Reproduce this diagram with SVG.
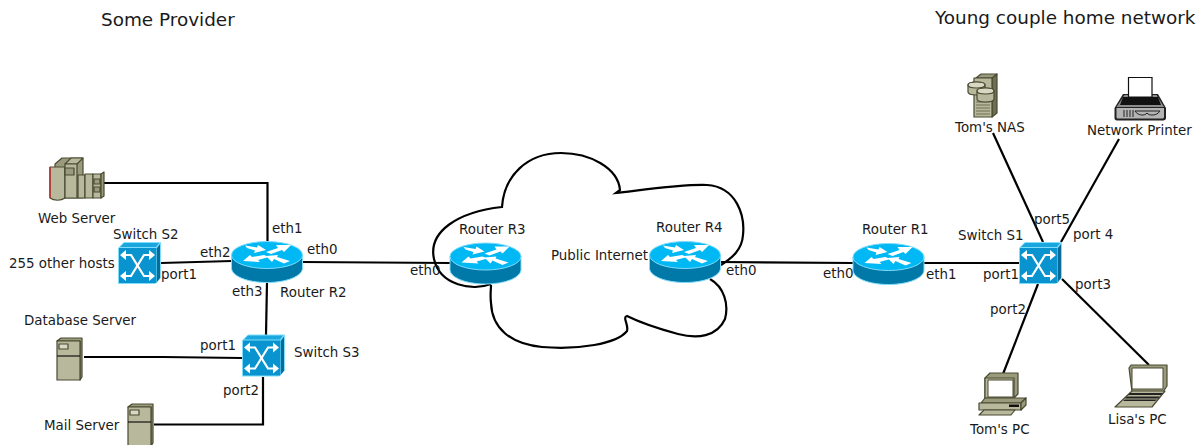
<svg xmlns="http://www.w3.org/2000/svg" xmlns:xlink="http://www.w3.org/1999/xlink" width="1198" height="445" viewBox="0 0 1198 445">
<style>
text{font-family:"DejaVu Sans",sans-serif;font-size:13.400px;fill:#1a1a1a}
.title{font-size:18.400px}
.link{fill:none;stroke:#000;stroke-width:2.200}
.cloud{fill:none;stroke:#000;stroke-width:2.200}
.k{stroke:#4a4a32;stroke-width:1.200;stroke-linejoin:round}
.b{fill:#b8b89c}.m{fill:#9a9a7c}.d{fill:#6e6e52}
.l{fill:#d8d8c4}
.arrow{fill:#fff}
</style>
<defs>
<g id="router">
<path d="M-35.500 14V27C-35.500 35 -20 41.500 0 41.500S35.500 35 35.500 27V14Z" fill="#0078a8" stroke="#7fdcfa" stroke-width="1"/>
<ellipse cx="0" cy="14" rx="35.500" ry="13.500" fill="#00b8f4" stroke="#7fdcfa" stroke-width="1"/>
<g class="arrow">
<path d="M-22 4.500L-10 6.500 -9 4 -1 9 -13 12 -12 9.500 -20 7Z"/>
<path d="M24 4L17 11 15 9 4 13 -1 11 11 7 9 4Z"/>
<path d="M-24 20L-17 14 -15 16 -3 14 2 16 -9 19 -7 21Z"/>
<path d="M-1 15L11 14 10 16 23 20 17 22.500 7 18 5 21Z"/>
</g>
</g>
<g id="switch">
<path d="M0 6L6 0H43V36L37 42H0Z" fill="#7fdcfa"/>
<path d="M2 5L6 1H41L38 5Z" fill="#1aa7e0"/>
<path d="M39 6L42 2V36L39 40Z" fill="#0a6c96"/>
<rect x="1" y="6" width="37.500" height="35" fill="#0a94cf"/>
<g fill="none" stroke="#fff" stroke-width="2.200">
<path d="M5 13H13L26 34H34"/>
<path d="M34 13H26L13 34H5"/>
</g>
<g class="arrow">
<path d="M2 13L8 8V18Z"/><path d="M37 13L31 8V18Z"/>
<path d="M2 34L8 29V39Z"/><path d="M37 34L31 29V39Z"/>
</g>
</g>
<g id="tower">
<path class="k m" d="M1 4L5 1H26V40L24 43V4Z"/>
<path class="k b" d="M1 4H24V43H1Z"/>
<path class="k l" d="M3 7H12V12H3Z"/>
<path d="M1 19H24" stroke="#111" stroke-width="1.200"/>
</g>
</defs>

<g id="connectors">
<path class="link" d="M104 183H267.500V242"/>
<path class="link" d="M161 263L232 261"/>
<path class="link" d="M302 262L450 263"/>
<path class="link" d="M267 282L266 335"/>
<path class="link" d="M84 357H163L242 358"/>
<path class="link" d="M263 377V424.500H154"/>
<path class="link" d="M721 262L853 263"/>
<path class="link" d="M924 263H1019"/>
<path class="link" d="M993 133L1043 242"/>
<path class="link" d="M1119 139L1061 242"/>
<path class="link" d="M1038 284L1003 374"/>
<path class="link" d="M1062 279L1149 365"/>
</g>

<g id="cloud">
<path class="cloud" d="M491 284C473 291 440 286 434 259C428 232 457 212 502 207C504 176 527 153 561 153C590 153 618 168 620 190L616 193C650 189 684 184 707 185C737 187 745 216 743 235C742 250 732 258 721 265"/>
<path class="cloud" d="M710 279C724 287 729 304 725 319C717 337 697 339 678 334C656 328 637 321 627 316C622 317 629 325 627 331C617 344 578 350 542 347C510 344 492 328 491 303C490 295 491 290 491 285"/>
</g>

<g id="router-r2"><use xlink:href="#router" href="#router" x="267" y="241"/><text x="280" y="297">Router R2</text></g>
<g id="router-r3"><use xlink:href="#router" href="#router" x="485.500" y="242.500"/><text x="459" y="234">Router R3</text></g>
<g id="router-r4"><use xlink:href="#router" href="#router" x="685" y="241"/><text x="656" y="232">Router R4</text></g>
<g id="router-r1"><use xlink:href="#router" href="#router" x="888.500" y="243"/><text x="862" y="234">Router R1</text></g>

<g id="switch-s2"><use xlink:href="#switch" href="#switch" x="118" y="242"/><text x="113" y="239">Switch S2</text></g>
<g id="switch-s3"><use xlink:href="#switch" href="#switch" x="242" y="334.500"/><text x="294" y="357">Switch S3</text></g>
<g id="switch-s1"><use xlink:href="#switch" href="#switch" x="1019" y="242"/><text x="958" y="240">Switch S1</text></g>

<g id="web-server">
<path class="k m" d="M55 164L62 158H83V198H55Z"/>
<path class="k b" d="M65 164L71 158H83L77 164Z"/>
<path class="k b" d="M50 167H65V198C61 201 54 201 50 198Z"/>
<path d="M50 167V198" stroke="#c03030" stroke-width="1.500"/>
<path class="k b" d="M65 164H77V198H65Z"/>
<path class="k m" d="M65 168H74V175H65Z"/>
<path class="k b" d="M78 175H85V198H78Z"/><path class="k b" d="M85 174H93V198H85Z"/><path class="k b" d="M93 174H101V198H93Z"/>
<path class="k m" d="M101 174L104 172V196L101 198Z"/>
<path class="k m" d="M94 179H100V184H94ZM94 187H100V192H94Z"/>
<text x="38" y="223">Web Server</text>
</g>

<g id="hosts"><text x="9" y="268">255 other hosts</text></g>

<g id="database-server"><use xlink:href="#tower" href="#tower" x="56" y="337"/><text x="24" y="325">Database Server</text></g>
<g id="mail-server"><use xlink:href="#tower" href="#tower" x="127" y="403"/><text x="44" y="430">Mail Server</text></g>

<g id="toms-nas">
<path class="k d" d="M992 78L997 74V113L992 117Z"/>
<path class="k m" d="M976 78L981 74H997L992 78Z"/>
<path class="k b" d="M974 78H992V117H974Z"/>
<path d="M976 102H990M976 105H990M976 108H990M976 111H990M976 114H990" stroke="#6e6e52" stroke-width="1"/>
<path class="k b" d="M968 85C968 81 985 81 985 85V92C985 96 968 96 968 92Z"/>
<path class="k l" d="M968 85C968 81 985 81 985 85C985 89 968 89 968 85Z"/>
<path class="k b" d="M977 91C977 87 994 87 994 91V99C994 103 977 103 977 99Z"/>
<path class="k l" d="M977 91C977 87 994 87 994 91C994 95 977 95 977 91Z"/>
<text x="955" y="132">Tom's NAS</text>
</g>

<g id="network-printer">
<path d="M1123 94H1158L1166 108V118C1166 120 1164 120.500 1162 120.500H1118C1116 120.500 1114.500 120 1114.500 118V108Z" fill="#222"/>
<path d="M1124.500 95H1156.500L1164 107H1116.500Z" fill="#8c8c8c"/>
<path d="M1123 97H1158L1161 105H1120Z" fill="#111"/>
<path d="M1128.500 77.500H1152V97H1128.500Z" fill="#fff" stroke="#111" stroke-width="1.200"/>
<path d="M1116.500 108H1164V117C1164 118.500 1163 118.500 1162 118.500H1118C1117 118.500 1116.500 118 1116.500 117Z" fill="#b4b4b4"/>
<path d="M1124 110V117M1127 110V117M1130 110V117M1133 110V117" stroke="#222" stroke-width="1"/>
<path d="M1135 111H1160C1157 116 1149 116 1147 113C1145 116 1138 116 1135 111Z" fill="none" stroke="#222" stroke-width="1"/>
<text x="1087" y="135">Network Printer</text>
</g>

<g id="toms-pc">
<path class="k m" d="M985 378L990 373H1018V394L1014 398H985Z"/>
<path class="k b" d="M985 378H1014V398H985Z"/>
<path d="M988 380H1013V397H988Z" fill="#fff" stroke="#4a4a32"/>
<path class="k m" d="M981 403L985 398H1026L1021 403Z"/>
<path class="k b" d="M979 403H1021V410H979Z"/>
<path class="k m" d="M1021 403L1026 398V405L1021 410Z"/>
<path d="M1009 404.500H1019V407H1009Z" fill="#111"/>
<path class="k b" d="M984 410H1015L1011 415H979Z"/>
<text x="970" y="434">Tom's PC</text>
</g>

<g id="lisas-pc">
<path class="k m" d="M1129 368L1131 365H1167V386L1163 392H1132Z"/>
<path d="M1132 368H1163V389H1132Z" fill="#fff" stroke="#4a4a32"/>
<path class="k b" d="M1132 391H1165L1152 407H1115Z"/>
<path d="M1130 393H1163L1161 395H1128ZM1127 396.500H1160L1158 398.500H1125ZM1125 399.500H1157L1155 401H1123Z" fill="#222"/>
<text x="1108" y="424">Lisa's PC</text>
</g>

<g id="labels">
<text class="title" x="101" y="26">Some Provider</text>
<text class="title" x="935" y="24">Young couple home network</text>
<text x="551" y="260">Public Internet</text>
<text x="272" y="233">eth1</text>
<text x="200" y="257">eth2</text>
<text x="307" y="254">eth0</text>
<text x="232" y="296">eth3</text>
<text x="161" y="279">port1</text>
<text x="200" y="350">port1</text>
<text x="223" y="395">port2</text>
<text x="410" y="275">eth0</text>
<text x="726" y="275">eth0</text>
<text x="823" y="278">eth0</text>
<text x="926" y="279">eth1</text>
<text x="983" y="279">port1</text>
<text x="990" y="314">port2</text>
<text x="1075" y="289">port3</text>
<text x="1073" y="239">port 4</text>
<text x="1034" y="224">port5</text>
</g>
</svg>
